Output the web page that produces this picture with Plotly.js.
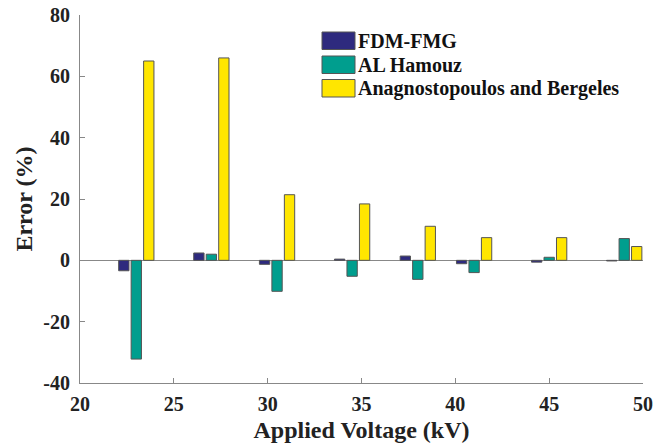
<!DOCTYPE html>
<html>
<head>
<meta charset="utf-8">
<script src="https://cdn.plot.ly/plotly-3.0.1.min.js"></script>
<style>html,body{margin:0;padding:0;background:#fff;}#chart{width:670px;height:447px;}</style>
</head>
<body>
<div id="chart"></div>
<script>
const voltages = [23, 27, 30.5, 34.5, 38, 41, 45, 49];
const fdmFmg = [-3.4, 2.4, -1.3, 0.4, 1.4, -1.1, -0.6, -0.2];
const alHamouz = [-32.2, 2.0, -10.1, -5.2, -6.2, -4.0, 1.0, 7.1];
const anagnostopoulos = [65.0, 66.0, 21.4, 18.4, 11.1, 7.4, 7.4, 4.5];
const seriesNames = ["FDM-FMG", "AL Hamouz", "Anagnostopoulos and Bergeles"];
const xTicks = [20, 25, 30, 35, 40, 45, 50];
const yTicks = [-40, -20, 0, 20, 40, 60, 80];

const colors = ["#2E2A7E", "#009E8E", "#FFE600"];
const barW = 0.55;
const step = 0.665;
const offsets = [-step - barW / 2, -barW / 2, step - barW / 2];
const dataSets = [fdmFmg, alHamouz, anagnostopoulos];

const traces = dataSets.map((vals, i) => ({
  type: "bar",
  name: seriesNames[i],
  x: voltages,
  y: vals,
  width: barW,
  offset: offsets[i],
  marker: { color: colors[i], line: { color: "#555555", width: 1 } }
}));

const font = { family: "'Liberation Serif', 'Times New Roman', serif", color: "#222222" };

// plot area in pixels: left 80, right 643, top 15, bottom 383
const PL = 80, PR = 643, PT = 15, PB = 383;
const px = v => (v - PL) / (PR - PL);
const py = v => (PB - v) / (PB - PT);

const shapes = [];
const annotations = [];
const rowTops = [32, 56, 79.5];
seriesNames.forEach((name, i) => {
  shapes.push({
    type: "rect", xref: "paper", yref: "paper",
    x0: px(322), x1: px(355), y0: py(rowTops[i] + 17.5), y1: py(rowTops[i]),
    fillcolor: colors[i], line: { color: "#555555", width: 1 }
  });
  annotations.push({
    xref: "paper", yref: "paper", x: px(356), y: py(rowTops[i] + 9),
    xanchor: "left", yanchor: "middle", showarrow: false, text: name,
    font: Object.assign({}, font, { size: 20, weight: 700, color: "#111111" })
  });
});

const layout = {
  width: 670,
  height: 447,
  margin: { l: PL, r: 670 - PR, t: PT, b: 447 - PB },
  paper_bgcolor: "#ffffff",
  plot_bgcolor: "#ffffff",
  barmode: "overlay",
  showlegend: false,
  shapes: shapes,
  annotations: annotations,
  xaxis: {
    range: [20, 50],
    tickvals: xTicks,
    ticktext: xTicks.map(String),
    ticks: "inside",
    ticklen: 5,
    tickcolor: "#888888",
    showline: true,
    linecolor: "#888888",
    linewidth: 1,
    showgrid: false,
    zeroline: false,
    ticklabelstandoff: 3,
    tickfont: Object.assign({}, font, { size: 20, weight: 700 }),
    title: { text: "Applied Voltage (kV)", font: Object.assign({}, font, { size: 24, weight: 700 }), standoff: 7 }
  },
  yaxis: {
    range: [-40, 80],
    tickvals: yTicks,
    ticktext: yTicks.map(String),
    ticks: "inside",
    ticklen: 5,
    tickcolor: "#888888",
    showline: true,
    linecolor: "#888888",
    linewidth: 1,
    showgrid: false,
    zeroline: true,
    zerolinecolor: "#888888",
    zerolinewidth: 1,
    ticklabelstandoff: 5,
    tickfont: Object.assign({}, font, { size: 20, weight: 700 }),
    title: { text: "Error (%)", font: Object.assign({}, font, { size: 24, weight: 700 }), standoff: 3 }
  }
};

Plotly.newPlot("chart", traces, layout, { displayModeBar: false, staticPlot: true });
</script>
</body>
</html>
